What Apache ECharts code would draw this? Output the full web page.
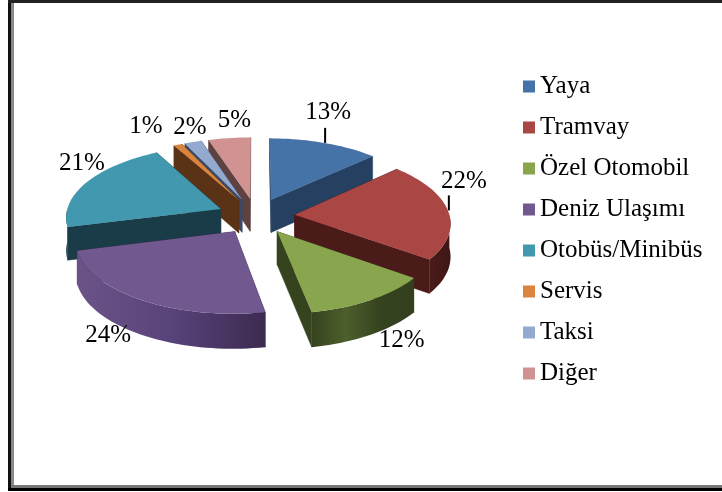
<!DOCTYPE html>
<html><head><meta charset="utf-8">
<style>html,body{margin:0;padding:0;background:#fff}#c{width:722px;height:492px}</style>
<script src="https://cdn.jsdelivr.net/npm/echarts@6/dist/echarts.min.js"></script>
</head><body><div id="c"></div>
<script>
// Data
const categories = ['Yaya','Tramvay','Özel Otomobil','Deniz Ulaşımı','Otobüs/Minibüs','Servis','Taksi','Diğer'];
const shares = [13,22,12,24,21,1,2,5];

// Styles
const topColors  = ['#4572A7','#AA4643','#89A54E','#71588F','#4198AF','#DB843D','#93A9CF','#D19392'];
const faceColors = ['#254061','#4A1B19','#36431F','#3C2B50','#1A3B48','#5A3316','#3A4A66','#5E4141'];
const rimStops   = [
  ['#254061','#254061'],['#4A1B19','#3F1715'],
  ['#36431F','#4D5F2C','#36431F','#333F1D'],['#6B5388','#58437A','#3C2B50'],
  ['#1A3B48','#1A3B48'],['#5A3316','#5A3316'],['#3A4A66','#3A4A66'],['#5E4141','#5E4141']
];
const paintOrder = [7,6,5,0,4,1,3,2];
const labelOffsets = [[4,-30],[16,-29],[31,40],[-33,35],[-5,-19],[-32,-18],[-3,-15],[5,-18]];
const leaderSlices = [0,1];

// Projection of the tilted pie
const CX=256, CY=216, RX=155, RY=72, PERSP=0.1, EXPLODE=0.25, DEPTH=33;
const total = shares.reduce((a,b)=>a+b,0);
const rad = d=>d*Math.PI/180;
const spans = []; { let a=0; shares.forEach(s=>{const b=a+s/total*360; spans.push([a,b]); a=b;}); }
function proj(x,y,down){
  const s=1+PERSP*y;
  return [CX+RX*x*s, CY+RY*y*s+(down?DEPTH*(1+0.05*y):0)];
}
function planePoint(i,t,r){
  const m=rad((spans[i][0]+spans[i][1])/2), a=rad(t);
  return [EXPLODE*Math.sin(m)+r*Math.sin(a), -EXPLODE*Math.cos(m)-r*Math.cos(a)];
}
function arcAngles(a,b){
  const out=[]; const n=Math.max(2,Math.ceil((b-a)/2));
  for(let k=0;k<=n;k++) out.push(a+(b-a)*k/n);
  return out;
}
function renderSlice(i){
  return function(){
    const [a,b]=spans[i];
    const apex=planePoint(i,0,0);
    const kids=[];
    const face=t=>{
      const p=planePoint(i,t,1);
      kids.push({type:'polygon',shape:{points:[proj(apex[0],apex[1]),proj(p[0],p[1]),proj(p[0],p[1],true),proj(apex[0],apex[1],true)]},
        style:{fill:faceColors[i],stroke:faceColors[i],lineWidth:0.5}});
    };
    face(b); face(a);
    const ra=Math.max(a,90), rb=Math.min(b,270);
    if(rb>ra){
      const ang=arcAngles(ra,rb);
      const up=ang.map(t=>{const p=planePoint(i,t,1);return proj(p[0],p[1]);});
      const dn=ang.map(t=>{const p=planePoint(i,t,1);return proj(p[0],p[1],true);}).reverse();
      const stops=rimStops[i];
      kids.push({type:'polygon',shape:{points:up.concat(dn)},style:{
        fill:{type:'linear',x:0,y:0,x2:1,y2:0,colorStops:stops.map((c,k)=>({offset:k/(stops.length-1),color:c}))}}});
    }
    const top=[proj(apex[0],apex[1])].concat(arcAngles(a,b).map(t=>{const p=planePoint(i,t,1);return proj(p[0],p[1]);}));
    kids.push({type:'polygon',shape:{points:top},style:{fill:topColors[i]}});
    return {type:'group',children:kids};
  };
}
function renderLabel(params,api){
  const i=params.dataIndex, m=(spans[i][0]+spans[i][1])/2;
  const p=planePoint(i,m,1), q=proj(p[0],p[1]), off=labelOffsets[i];
  const kids=[{type:'text',style:{x:q[0]+off[0],y:q[1]+off[1],text:api.value(0)+'%',align:'center',verticalAlign:'middle',
    font:'25px "Liberation Serif"',fill:'#000'}}];
  if(leaderSlices.includes(i)){
    kids.push({type:'line',shape:{x1:q[0]+1,y1:q[1]-15,x2:q[0]+1,y2:q[1]},style:{stroke:'#000',lineWidth:2}});
  }
  return {type:'group',children:kids};
}
const frame=[[8,0,3,491,'#111'],[11,3,3,482,'#888'],[8,0,714,3,'#222'],[11,485,711,3,'#777'],[8,488,714,3,'#000']];
const chart=echarts.init(document.getElementById('c'),null,{renderer:'canvas'});
chart.setOption({
  backgroundColor:'#fff',animation:false,
  legend:{orient:'vertical',left:518,top:69,itemWidth:12,itemHeight:12,itemGap:16,selectedMode:false,icon:'rect',
    data:categories,textStyle:{fontFamily:'Liberation Serif',fontSize:25,color:'#000',lineHeight:12}},
  graphic:frame.map(f=>({type:'rect',silent:true,shape:{x:f[0],y:f[1],width:f[2],height:f[3]},style:{fill:f[4]}})),
  series:paintOrder.map((i,k)=>({
    type:'custom',name:categories[i],coordinateSystem:'none',z:2+k,silent:true,
    itemStyle:{color:topColors[i]},data:[shares[i]],renderItem:renderSlice(i)
  })).concat([{type:'custom',name:'labels',coordinateSystem:'none',z:30,silent:true,data:shares,renderItem:renderLabel}])
});
</script></body></html>
